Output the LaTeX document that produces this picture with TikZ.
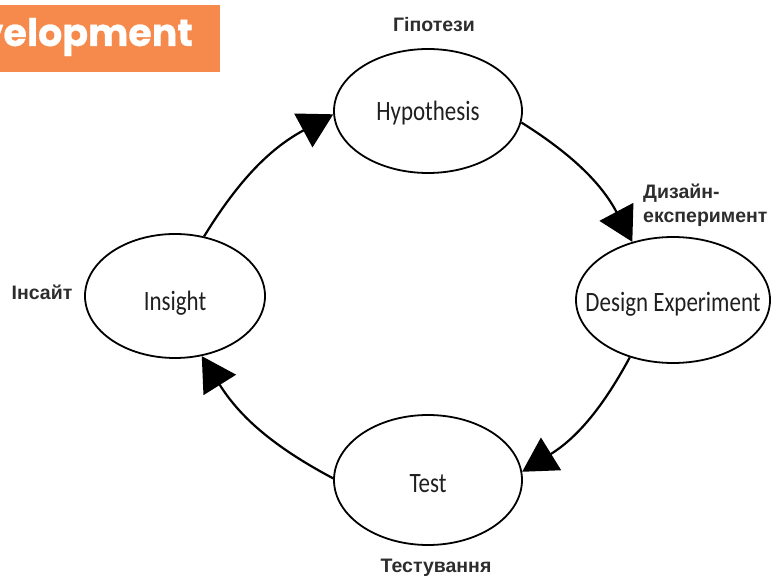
\documentclass[tikz,border=0pt]{standalone}
\usepackage{fontspec}
\setmainfont{Liberation Sans}
\newfontfamily\handfont[FakeStretch=0.82]{Carlito}
\newfontfamily\headfont[FakeBold=0.6]{Poppins}
\usetikzlibrary{arrows.meta,shapes.geometric}
\definecolor{headorange}{RGB}{246,138,76}
\definecolor{notegray}{RGB}{45,45,45}
\begin{document}
\begin{tikzpicture}[x=1pt,y=1pt,
  stage/.style={ellipse, draw=black, line width=1.8pt, inner sep=0pt},
  stagetext/.style={inner sep=0pt, font=\handfont\fontsize{28}{32}\selectfont, text=black!88},
  note/.style={font=\bfseries\fontsize{19.5}{23}\selectfont, text=notegray, inner sep=0pt},
  flow/.style={line width=2.2pt, -{Triangle[length=34pt,width=38pt]}, bend left=15}]
\useasboundingbox (0,0) rectangle (776,576);

% header tab, cut at the left edge
\begin{scope}
  \clip (0,504) rectangle (220,571);
  \fill[headorange] (0,504) rectangle (220,571);
  \node[anchor=base east, inner sep=0pt, text=white,
        font=\headfont\bfseries\fontsize{38}{41}\selectfont] (head) at (193,530) {Development};
\end{scope}

% the four stages of the cycle
\node[stage, minimum width=188pt, minimum height=124pt] (hyp) at (428,465) {};
\node[stage, minimum width=194pt, minimum height=126pt] (des) at (673,276) {};
\node[stage, minimum width=188pt, minimum height=130pt] (tst) at (428,96) {};
\node[stage, minimum width=180pt, minimum height=124pt] (ins) at (175,280) {};

\node[stagetext] (hyptext) at ([yshift=-2pt]hyp.center) {Hypothesis};
\node[stagetext] (destext) at ([yshift=-4.5pt]des.center) {Design Experiment};
\node[stagetext] (tsttext) at ([yshift=-4pt]tst.center) {Test};
\node[stagetext] (instext) at ([yshift=-7pt]ins.center) {Insight};

% Ukrainian captions
\node[note, anchor=base] (hypcap) at (434,544) {Гіпотези};
\node[note, anchor=base west] (descapa) at (643,377) {Дизайн-};
\node[note, anchor=base west] (descapb) at (643,353) {експеримент};
\node[note, anchor=base] (tstcap) at (436,4) {Тестування};
\node[note, anchor=base] (inscap) at (42,276) {Інсайт};

% clockwise flow
\draw[flow] (ins.64) to (hyp.182);
\draw[flow] (hyp.353) to (des.125);
\draw[flow] (des.233) to (tst.5);
\draw[flow] (tst.179) to (ins.294);
\end{tikzpicture}
\end{document}
